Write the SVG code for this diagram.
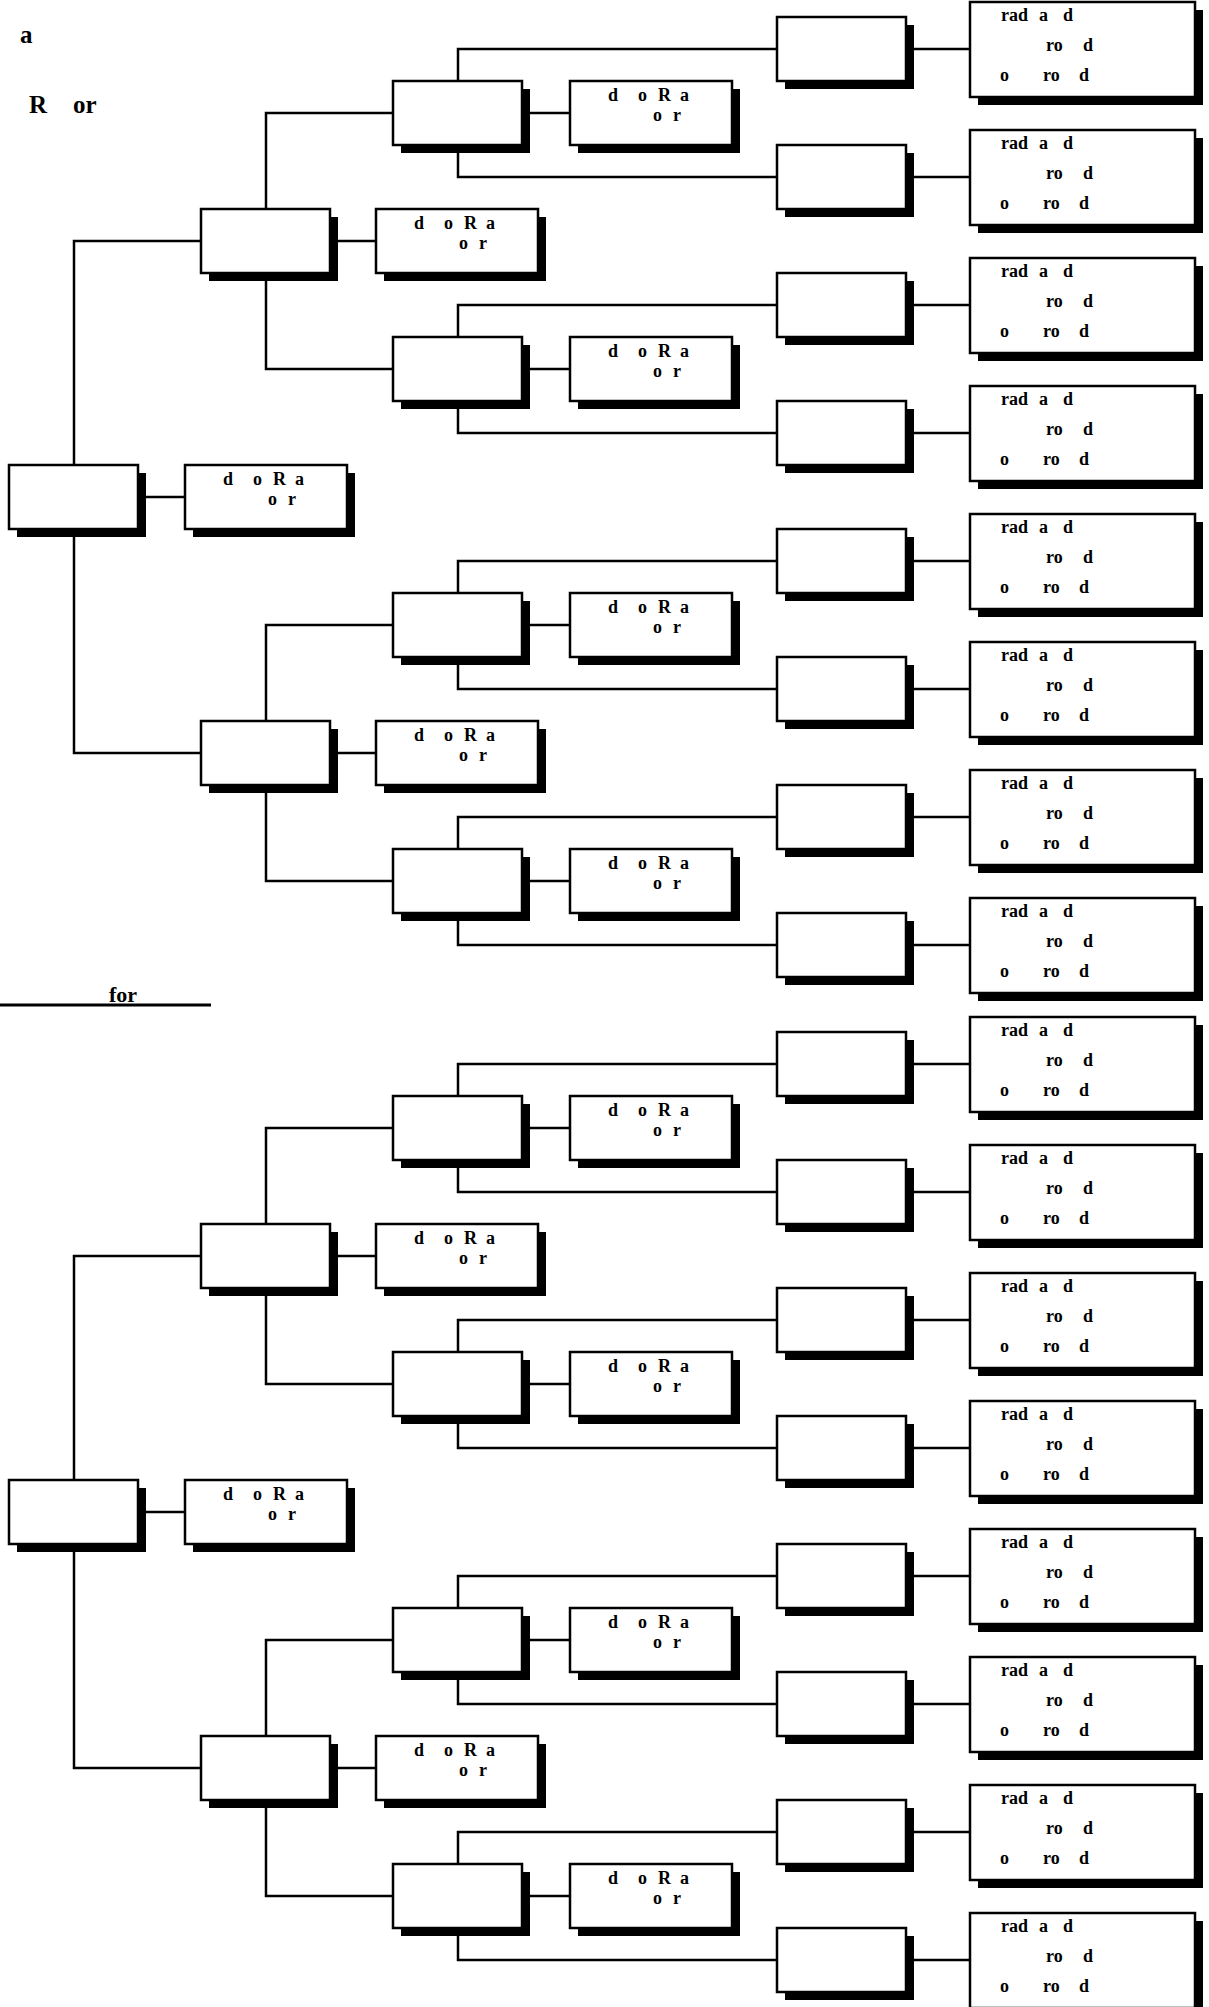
<svg xmlns="http://www.w3.org/2000/svg" width="1209" height="2007" viewBox="0 0 1209 2007">
<style>
.bg{fill:#fff}
.sh{fill:#000}
.bx{fill:#fff;stroke:#000;stroke-width:2.5}
.c{fill:none;stroke:#000;stroke-width:2.5}
.t{font-family:"Liberation Serif","Times New Roman",serif;font-weight:bold;font-size:18px;fill:#000}
.h{font-family:"Liberation Serif","Times New Roman",serif;font-weight:bold;font-size:25px;fill:#000}
</style>
<rect class="bg" width="1209" height="2007"/>
<g id="titles">
<text class="h" x="20" y="43">a</text>
<text class="h"><tspan x="29" y="113">R</tspan> <tspan x="73">or</tspan></text>
<text class="h" x="109" y="1002" style="font-size:22px">for</text>
<path d="M0,1005H211" stroke="#000" stroke-width="3"/>
</g>
<g id="connectors">
<path class="c" d="M202,241H74V753H202M138,497H185M393,113H266V369H393M393,625H266V881H393M330,241H376M330,753H376M777,49H458V177H777M777,305H458V433H777M777,561H458V689H777M777,817H458V945H777M522,113H570M522,369H570M522,625H570M522,881H570M906,49H970M906,177H970M906,305H970M906,433H970M906,561H970M906,689H970M906,817H970M906,945H970"/>
<path class="c" transform="translate(0,1015)" d="M202,241H74V753H202M138,497H185M393,113H266V369H393M393,625H266V881H393M330,241H376M330,753H376M777,49H458V177H777M777,305H458V433H777M777,561H458V689H777M777,817H458V945H777M522,113H570M522,369H570M522,625H570M522,881H570M906,49H970M906,177H970M906,305H970M906,433H970M906,561H970M906,689H970M906,817H970M906,945H970"/>
</g>
<defs>
<g id="B"><rect class="sh" x="8" y="8" width="129" height="64"/><rect class="bx" width="129" height="64"/></g>
<g id="L"><rect class="sh" x="8" y="8" width="162" height="64"/><rect class="bx" width="162" height="64"/></g>
<g id="RB"><rect class="sh" x="8" y="8" width="225" height="95"/><rect class="bx" width="225" height="95"/></g>
</defs>
<!-- half 1 -->
<g id="root1" transform="translate(9,465)"><use href="#B"/></g>
<g id="root1-note" transform="translate(185,465)"><use href="#L"/><text class="t"><tspan x="38" y="20">d</tspan> <tspan x="68">o</tspan> <tspan x="88">R</tspan> <tspan x="110">a</tspan></text><text class="t"><tspan x="83" y="40">o</tspan> <tspan x="103">r</tspan></text></g>
<g id="n2a" transform="translate(201,209)"><use href="#B"/></g>
<g id="n2a-note" transform="translate(376,209)"><use href="#L"/><text class="t"><tspan x="38" y="20">d</tspan> <tspan x="68">o</tspan> <tspan x="88">R</tspan> <tspan x="110">a</tspan></text><text class="t"><tspan x="83" y="40">o</tspan> <tspan x="103">r</tspan></text></g>
<g id="n2b" transform="translate(201,721)"><use href="#B"/></g>
<g id="n2b-note" transform="translate(376,721)"><use href="#L"/><text class="t"><tspan x="38" y="20">d</tspan> <tspan x="68">o</tspan> <tspan x="88">R</tspan> <tspan x="110">a</tspan></text><text class="t"><tspan x="83" y="40">o</tspan> <tspan x="103">r</tspan></text></g>
<g id="n3a" transform="translate(393,81)"><use href="#B"/></g>
<g id="n3a-note" transform="translate(570,81)"><use href="#L"/><text class="t"><tspan x="38" y="20">d</tspan> <tspan x="68">o</tspan> <tspan x="88">R</tspan> <tspan x="110">a</tspan></text><text class="t"><tspan x="83" y="40">o</tspan> <tspan x="103">r</tspan></text></g>
<g id="n3b" transform="translate(393,337)"><use href="#B"/></g>
<g id="n3b-note" transform="translate(570,337)"><use href="#L"/><text class="t"><tspan x="38" y="20">d</tspan> <tspan x="68">o</tspan> <tspan x="88">R</tspan> <tspan x="110">a</tspan></text><text class="t"><tspan x="83" y="40">o</tspan> <tspan x="103">r</tspan></text></g>
<g id="n3c" transform="translate(393,593)"><use href="#B"/></g>
<g id="n3c-note" transform="translate(570,593)"><use href="#L"/><text class="t"><tspan x="38" y="20">d</tspan> <tspan x="68">o</tspan> <tspan x="88">R</tspan> <tspan x="110">a</tspan></text><text class="t"><tspan x="83" y="40">o</tspan> <tspan x="103">r</tspan></text></g>
<g id="n3d" transform="translate(393,849)"><use href="#B"/></g>
<g id="n3d-note" transform="translate(570,849)"><use href="#L"/><text class="t"><tspan x="38" y="20">d</tspan> <tspan x="68">o</tspan> <tspan x="88">R</tspan> <tspan x="110">a</tspan></text><text class="t"><tspan x="83" y="40">o</tspan> <tspan x="103">r</tspan></text></g>
<g id="n4a" transform="translate(777,17)"><use href="#B"/></g>
<g id="n4b" transform="translate(777,145)"><use href="#B"/></g>
<g id="n4c" transform="translate(777,273)"><use href="#B"/></g>
<g id="n4d" transform="translate(777,401)"><use href="#B"/></g>
<g id="n4e" transform="translate(777,529)"><use href="#B"/></g>
<g id="n4f" transform="translate(777,657)"><use href="#B"/></g>
<g id="n4g" transform="translate(777,785)"><use href="#B"/></g>
<g id="n4h" transform="translate(777,913)"><use href="#B"/></g>
<g id="r1" transform="translate(970,2)"><use href="#RB"/><text class="t"><tspan x="31" y="19">rad</tspan> <tspan x="69">a</tspan> <tspan x="93">d</tspan></text><text class="t"><tspan x="76" y="49">ro</tspan> <tspan x="113">d</tspan></text><text class="t"><tspan x="30" y="79">o</tspan> <tspan x="73">ro</tspan> <tspan x="109">d</tspan></text></g>
<g id="r2" transform="translate(970,130)"><use href="#RB"/><text class="t"><tspan x="31" y="19">rad</tspan> <tspan x="69">a</tspan> <tspan x="93">d</tspan></text><text class="t"><tspan x="76" y="49">ro</tspan> <tspan x="113">d</tspan></text><text class="t"><tspan x="30" y="79">o</tspan> <tspan x="73">ro</tspan> <tspan x="109">d</tspan></text></g>
<g id="r3" transform="translate(970,258)"><use href="#RB"/><text class="t"><tspan x="31" y="19">rad</tspan> <tspan x="69">a</tspan> <tspan x="93">d</tspan></text><text class="t"><tspan x="76" y="49">ro</tspan> <tspan x="113">d</tspan></text><text class="t"><tspan x="30" y="79">o</tspan> <tspan x="73">ro</tspan> <tspan x="109">d</tspan></text></g>
<g id="r4" transform="translate(970,386)"><use href="#RB"/><text class="t"><tspan x="31" y="19">rad</tspan> <tspan x="69">a</tspan> <tspan x="93">d</tspan></text><text class="t"><tspan x="76" y="49">ro</tspan> <tspan x="113">d</tspan></text><text class="t"><tspan x="30" y="79">o</tspan> <tspan x="73">ro</tspan> <tspan x="109">d</tspan></text></g>
<g id="r5" transform="translate(970,514)"><use href="#RB"/><text class="t"><tspan x="31" y="19">rad</tspan> <tspan x="69">a</tspan> <tspan x="93">d</tspan></text><text class="t"><tspan x="76" y="49">ro</tspan> <tspan x="113">d</tspan></text><text class="t"><tspan x="30" y="79">o</tspan> <tspan x="73">ro</tspan> <tspan x="109">d</tspan></text></g>
<g id="r6" transform="translate(970,642)"><use href="#RB"/><text class="t"><tspan x="31" y="19">rad</tspan> <tspan x="69">a</tspan> <tspan x="93">d</tspan></text><text class="t"><tspan x="76" y="49">ro</tspan> <tspan x="113">d</tspan></text><text class="t"><tspan x="30" y="79">o</tspan> <tspan x="73">ro</tspan> <tspan x="109">d</tspan></text></g>
<g id="r7" transform="translate(970,770)"><use href="#RB"/><text class="t"><tspan x="31" y="19">rad</tspan> <tspan x="69">a</tspan> <tspan x="93">d</tspan></text><text class="t"><tspan x="76" y="49">ro</tspan> <tspan x="113">d</tspan></text><text class="t"><tspan x="30" y="79">o</tspan> <tspan x="73">ro</tspan> <tspan x="109">d</tspan></text></g>
<g id="r8" transform="translate(970,898)"><use href="#RB"/><text class="t"><tspan x="31" y="19">rad</tspan> <tspan x="69">a</tspan> <tspan x="93">d</tspan></text><text class="t"><tspan x="76" y="49">ro</tspan> <tspan x="113">d</tspan></text><text class="t"><tspan x="30" y="79">o</tspan> <tspan x="73">ro</tspan> <tspan x="109">d</tspan></text></g>
<!-- half 2 -->
<g id="root2" transform="translate(9,1480)"><use href="#B"/></g>
<g id="root2-note" transform="translate(185,1480)"><use href="#L"/><text class="t"><tspan x="38" y="20">d</tspan> <tspan x="68">o</tspan> <tspan x="88">R</tspan> <tspan x="110">a</tspan></text><text class="t"><tspan x="83" y="40">o</tspan> <tspan x="103">r</tspan></text></g>
<g id="m2a" transform="translate(201,1224)"><use href="#B"/></g>
<g id="m2a-note" transform="translate(376,1224)"><use href="#L"/><text class="t"><tspan x="38" y="20">d</tspan> <tspan x="68">o</tspan> <tspan x="88">R</tspan> <tspan x="110">a</tspan></text><text class="t"><tspan x="83" y="40">o</tspan> <tspan x="103">r</tspan></text></g>
<g id="m2b" transform="translate(201,1736)"><use href="#B"/></g>
<g id="m2b-note" transform="translate(376,1736)"><use href="#L"/><text class="t"><tspan x="38" y="20">d</tspan> <tspan x="68">o</tspan> <tspan x="88">R</tspan> <tspan x="110">a</tspan></text><text class="t"><tspan x="83" y="40">o</tspan> <tspan x="103">r</tspan></text></g>
<g id="m3a" transform="translate(393,1096)"><use href="#B"/></g>
<g id="m3a-note" transform="translate(570,1096)"><use href="#L"/><text class="t"><tspan x="38" y="20">d</tspan> <tspan x="68">o</tspan> <tspan x="88">R</tspan> <tspan x="110">a</tspan></text><text class="t"><tspan x="83" y="40">o</tspan> <tspan x="103">r</tspan></text></g>
<g id="m3b" transform="translate(393,1352)"><use href="#B"/></g>
<g id="m3b-note" transform="translate(570,1352)"><use href="#L"/><text class="t"><tspan x="38" y="20">d</tspan> <tspan x="68">o</tspan> <tspan x="88">R</tspan> <tspan x="110">a</tspan></text><text class="t"><tspan x="83" y="40">o</tspan> <tspan x="103">r</tspan></text></g>
<g id="m3c" transform="translate(393,1608)"><use href="#B"/></g>
<g id="m3c-note" transform="translate(570,1608)"><use href="#L"/><text class="t"><tspan x="38" y="20">d</tspan> <tspan x="68">o</tspan> <tspan x="88">R</tspan> <tspan x="110">a</tspan></text><text class="t"><tspan x="83" y="40">o</tspan> <tspan x="103">r</tspan></text></g>
<g id="m3d" transform="translate(393,1864)"><use href="#B"/></g>
<g id="m3d-note" transform="translate(570,1864)"><use href="#L"/><text class="t"><tspan x="38" y="20">d</tspan> <tspan x="68">o</tspan> <tspan x="88">R</tspan> <tspan x="110">a</tspan></text><text class="t"><tspan x="83" y="40">o</tspan> <tspan x="103">r</tspan></text></g>
<g id="m4a" transform="translate(777,1032)"><use href="#B"/></g>
<g id="m4b" transform="translate(777,1160)"><use href="#B"/></g>
<g id="m4c" transform="translate(777,1288)"><use href="#B"/></g>
<g id="m4d" transform="translate(777,1416)"><use href="#B"/></g>
<g id="m4e" transform="translate(777,1544)"><use href="#B"/></g>
<g id="m4f" transform="translate(777,1672)"><use href="#B"/></g>
<g id="m4g" transform="translate(777,1800)"><use href="#B"/></g>
<g id="m4h" transform="translate(777,1928)"><use href="#B"/></g>
<g id="s1" transform="translate(970,1017)"><use href="#RB"/><text class="t"><tspan x="31" y="19">rad</tspan> <tspan x="69">a</tspan> <tspan x="93">d</tspan></text><text class="t"><tspan x="76" y="49">ro</tspan> <tspan x="113">d</tspan></text><text class="t"><tspan x="30" y="79">o</tspan> <tspan x="73">ro</tspan> <tspan x="109">d</tspan></text></g>
<g id="s2" transform="translate(970,1145)"><use href="#RB"/><text class="t"><tspan x="31" y="19">rad</tspan> <tspan x="69">a</tspan> <tspan x="93">d</tspan></text><text class="t"><tspan x="76" y="49">ro</tspan> <tspan x="113">d</tspan></text><text class="t"><tspan x="30" y="79">o</tspan> <tspan x="73">ro</tspan> <tspan x="109">d</tspan></text></g>
<g id="s3" transform="translate(970,1273)"><use href="#RB"/><text class="t"><tspan x="31" y="19">rad</tspan> <tspan x="69">a</tspan> <tspan x="93">d</tspan></text><text class="t"><tspan x="76" y="49">ro</tspan> <tspan x="113">d</tspan></text><text class="t"><tspan x="30" y="79">o</tspan> <tspan x="73">ro</tspan> <tspan x="109">d</tspan></text></g>
<g id="s4" transform="translate(970,1401)"><use href="#RB"/><text class="t"><tspan x="31" y="19">rad</tspan> <tspan x="69">a</tspan> <tspan x="93">d</tspan></text><text class="t"><tspan x="76" y="49">ro</tspan> <tspan x="113">d</tspan></text><text class="t"><tspan x="30" y="79">o</tspan> <tspan x="73">ro</tspan> <tspan x="109">d</tspan></text></g>
<g id="s5" transform="translate(970,1529)"><use href="#RB"/><text class="t"><tspan x="31" y="19">rad</tspan> <tspan x="69">a</tspan> <tspan x="93">d</tspan></text><text class="t"><tspan x="76" y="49">ro</tspan> <tspan x="113">d</tspan></text><text class="t"><tspan x="30" y="79">o</tspan> <tspan x="73">ro</tspan> <tspan x="109">d</tspan></text></g>
<g id="s6" transform="translate(970,1657)"><use href="#RB"/><text class="t"><tspan x="31" y="19">rad</tspan> <tspan x="69">a</tspan> <tspan x="93">d</tspan></text><text class="t"><tspan x="76" y="49">ro</tspan> <tspan x="113">d</tspan></text><text class="t"><tspan x="30" y="79">o</tspan> <tspan x="73">ro</tspan> <tspan x="109">d</tspan></text></g>
<g id="s7" transform="translate(970,1785)"><use href="#RB"/><text class="t"><tspan x="31" y="19">rad</tspan> <tspan x="69">a</tspan> <tspan x="93">d</tspan></text><text class="t"><tspan x="76" y="49">ro</tspan> <tspan x="113">d</tspan></text><text class="t"><tspan x="30" y="79">o</tspan> <tspan x="73">ro</tspan> <tspan x="109">d</tspan></text></g>
<g id="s8" transform="translate(970,1913)"><use href="#RB"/><text class="t"><tspan x="31" y="19">rad</tspan> <tspan x="69">a</tspan> <tspan x="93">d</tspan></text><text class="t"><tspan x="76" y="49">ro</tspan> <tspan x="113">d</tspan></text><text class="t"><tspan x="30" y="79">o</tspan> <tspan x="73">ro</tspan> <tspan x="109">d</tspan></text></g>
</svg>
